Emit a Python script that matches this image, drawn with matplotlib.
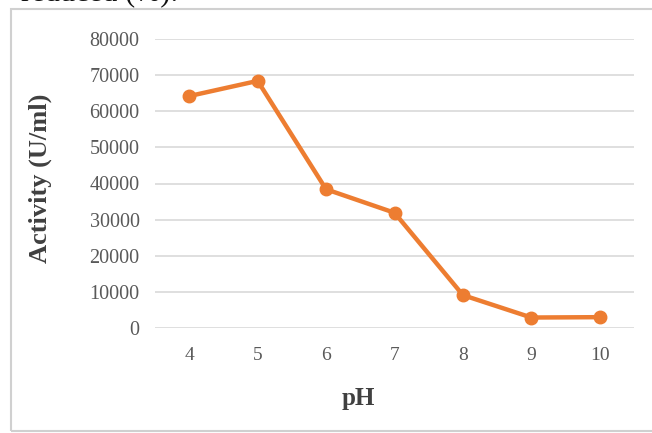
import matplotlib.pyplot as plt
from matplotlib.patches import Rectangle

# pH activity profile
ph_values = [4, 5, 6, 7, 8, 9, 10]
activity = [64200, 68400, 38400, 31900, 9100, 2900, 3000]
y_ticks = [0, 10000, 20000, 30000, 40000, 50000, 60000, 70000, 80000]

orange = "#ED7D31"
grey_text = "#595959"
serif = "Liberation Serif"

fig = plt.figure(figsize=(6.52, 4.33), dpi=100)
W, H = 652, 433

# chart frame
fig.patches.append(Rectangle((11 / W, 1 - 431 / H), 1.0, (431 - 9) / H,
                             transform=fig.transFigure, fill=False,
                             edgecolor="#D0D0D0", linewidth=1.5))

# caption line from the page above, cut by the crop
fig.text(21 / W, 1 - 1 / H, "reduced (%).", fontsize=22, family=serif,
         color="#111111", va="baseline", ha="left")

ax = fig.add_axes([155 / W, 1 - 328 / H, (634 - 155) / W, (328 - 39) / H])
ax.plot(ph_values, activity, color=orange, linewidth=3.2, marker="o",
        markersize=9, solid_joinstyle="round")

ax.set_xlim(3.5, 10.5)
ax.set_ylim(0, 80000)
ax.set_xticks(ph_values)
ax.set_yticks(y_ticks)
ax.set_yticklabels([str(v) for v in y_ticks])
ax.grid(axis="y", color="#D9D9D9", linewidth=1.2)
ax.set_axisbelow(True)
for side in ["top", "right", "left", "bottom"]:
    ax.spines[side].set_visible(False)
ax.tick_params(axis="y", length=0, labelsize=14.5, labelcolor=grey_text, pad=11)
ax.tick_params(axis="x", length=0, labelsize=14, labelcolor=grey_text, pad=14)
for lab in ax.get_xticklabels() + ax.get_yticklabels():
    lab.set_family(serif)

ax.set_xlabel("pH", family=serif, fontsize=18, fontweight="bold",
              color="#404040", va="center")
ax.set_ylabel("Activity (U/ml)", family=serif, fontsize=19,
              fontweight="bold", color="#404040", va="center")
ax.xaxis.set_label_coords((358 - 155) / 479, (328 - 399) / 289)
ax.yaxis.set_label_coords((40 - 155) / 479, (328 - 178) / 289)

fig.savefig("out.png", dpi=100)
